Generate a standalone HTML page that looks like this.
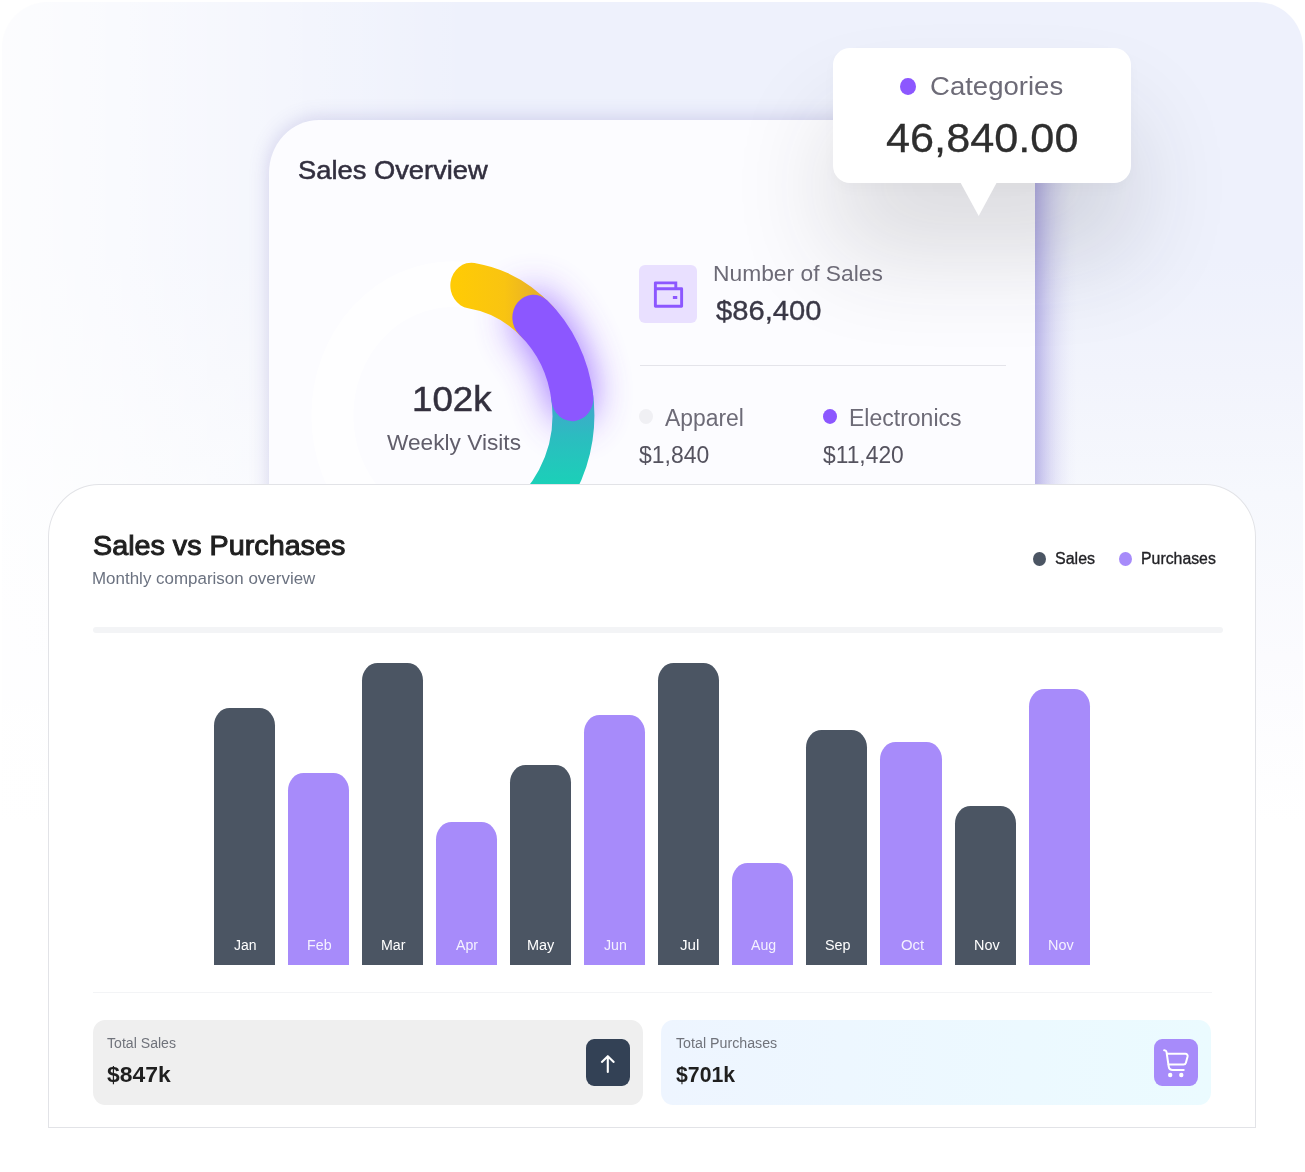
<!DOCTYPE html>
<html lang="en"><head><meta charset="utf-8"><title>Sales dashboard</title>
<style>
*{box-sizing:border-box;margin:0;padding:0}
html,body{width:1305px;height:1172px;background:#fff;overflow:hidden}
body{position:relative;font-family:"Liberation Sans",Arial,sans-serif}
.abs{position:absolute}
.panel{left:2px;top:2px;width:1301px;height:1170px;border-radius:46px 46px 0 0;
 background:linear-gradient(90deg,rgba(255,255,255,.82) 0%,rgba(255,255,255,.66) 9%,rgba(255,255,255,.4) 20%,rgba(255,255,255,0) 36%),linear-gradient(180deg,#eef1fc 0%,#eef1fc 22%,#f2f4fc 32%,#f6f8fd 42%,#fbfbfe 56%,#fff 70%)}
.card1{left:268.8px;top:120.3px;width:766.4px;height:420px;border-radius:50px 50px 0 0/53px 53px 0 0;background:#fcfcff;
 box-shadow:0 -1px 20px rgba(92,82,175,.24)}
.rsh{left:1035.2px;top:124px;width:42px;height:380px;background:linear-gradient(90deg,rgba(108,92,208,.34) 0,rgba(108,92,208,.25) 18%,rgba(108,92,208,.15) 40%,rgba(108,92,208,.07) 62%,rgba(108,92,208,.02) 82%,rgba(108,92,208,0) 100%)}
.tip{left:833px;top:47.7px;width:298px;height:135.5px;border-radius:17px;background:#fff;box-shadow:0 70px 100px rgba(45,45,52,.155),0 6px 14px rgba(45,45,52,.025)}
.card2{left:48.3px;top:484.1px;width:1207.3px;height:644.4px;border-radius:51px 51px 0 0/53px 53px 0 0;background:#fff;border:1px solid #e2e3e7}
.t{position:absolute;white-space:nowrap;line-height:1;transform-origin:0 0.8465em;display:block}
.bar{position:absolute;border-radius:15.5px 15.5px 0 0/17.5px 17.5px 0 0}
.bar.d{background:#4b5563}.bar.p{background:#a78bfa}
.dot{position:absolute;border-radius:50%}
</style></head><body>
<div class="abs panel"></div>
<div class="abs card1"></div>
<div class="abs rsh"></div>
<!-- tooltip shadow + body -->
<div class="abs tip"></div>
<svg class="abs" style="left:955px;top:180px" width="48" height="40" viewBox="0 0 48 40"><path d="M5.7 3 H41.5 L23.7 36 Z" fill="#fff"/></svg>
<div class="abs" style="left:950px;top:168px;width:58px;height:15.2px;background:#fff"></div>
<div class="dot" style="left:899.6px;top:77.6px;width:16.3px;height:17.6px;background:#8c57ff"></div>

<!-- donut -->
<svg class="abs" style="left:268px;top:200px" width="420" height="340" viewBox="268 200 420 340">
 <defs>
  <linearGradient id="gy" gradientUnits="userSpaceOnUse" x1="2" y1="0" x2="92" y2="0"><stop offset="0" stop-color="#ffcb05"/><stop offset=".55" stop-color="#f9c411"/><stop offset="1" stop-color="#e3ab2e"/></linearGradient>
  <linearGradient id="gt" gradientUnits="userSpaceOnUse" x1="0" y1="-18" x2="0" y2="63"><stop offset="0" stop-color="#46a2cf"/><stop offset=".45" stop-color="#2cbcc0"/><stop offset="1" stop-color="#1bd0b8"/></linearGradient>
  <filter id="glow" filterUnits="userSpaceOnUse" x="-60" y="-240" width="340" height="400"><feGaussianBlur stdDeviation="19"/></filter>
 </defs>
 <g transform="translate(452.9,415.4) scale(1,1.09)" fill="none" stroke-width="42">
  <circle r="120.5" stroke="#fff" stroke-opacity=".75"/>
  <path id="pp" d="M80.47 -89.69A120.5 120.5 0 0 1 119.47 -15.73" stroke="#8c57ff" stroke-linecap="round" filter="url(#glow)" opacity=".9"/>
 </g>
 <g transform="translate(452.9,415.4) scale(1,1.09)" fill="none" stroke-width="42">
  <path d="M118.67 -20.92A120.5 120.5 0 0 1 41.21 113.23" stroke="url(#gt)"/>
  <path d="M18.43 -119.08A120.5 120.5 0 0 1 85.21 -85.21" stroke="url(#gy)" stroke-linecap="round"/>
  <path d="M80.47 -89.69A120.5 120.5 0 0 1 119.47 -15.73" stroke="#8c57ff" stroke-linecap="round"/>
 </g>
</svg>

<!-- icon box -->
<div class="abs" style="left:639.3px;top:265.3px;width:58px;height:58px;border-radius:6px;background:#e9e0ff"></div>
<svg class="abs" style="left:651px;top:277px" width="35" height="35" viewBox="0 0 24 24"><path fill="#8c57ff" d="M18 7h3a1 1 0 0 1 1 1v12a1 1 0 0 1-1 1H3a1 1 0 0 1-1-1V4a1 1 0 0 1 1-1h15v4ZM4 9v10h16V9H4Zm0-4v2h12V5H4Zm11 8h3v2h-3v-2Z"/></svg>
<div class="abs" style="left:639.6px;top:364.6px;width:366.5px;height:1.3px;background:#e4e4ea"></div>
<div class="dot" style="left:639.3px;top:409.2px;width:14.2px;height:15.2px;background:#f0f0f4"></div>
<div class="dot" style="left:822.5px;top:409.2px;width:14.4px;height:15.2px;background:#8c57ff"></div>

<div class="abs card2"></div>
<div class="abs" style="left:93px;top:627px;width:1129.8px;height:5.6px;border-radius:3px;background:#f3f4f6"></div>
<div class="dot" style="left:1033.3px;top:552.2px;width:13.2px;height:14.3px;background:#4b5563"></div>
<div class="dot" style="left:1119.2px;top:552.2px;width:13.2px;height:14.3px;background:#a78bfa"></div>
<div class="bar d" style="left:214.1px;width:60.5px;top:708.2px;height:256.4px"></div><div class="bar p" style="left:288px;width:60.6px;top:773px;height:191.6px"></div><div class="bar d" style="left:362px;width:60.5px;top:663.4px;height:301.2px"></div><div class="bar p" style="left:436px;width:60.5px;top:822.4px;height:142.2px"></div><div class="bar d" style="left:510.3px;width:60.5px;top:764.5px;height:200.1px"></div><div class="bar p" style="left:584.2px;width:60.5px;top:715.1px;height:249.5px"></div><div class="bar d" style="left:658px;width:60.9px;top:663.4px;height:301.2px"></div><div class="bar p" style="left:732px;width:60.9px;top:863.4px;height:101.2px"></div><div class="bar d" style="left:805.9px;width:60.9px;top:730.4px;height:234.2px"></div><div class="bar p" style="left:879.8px;width:62.1px;top:742.3px;height:222.3px"></div><div class="bar d" style="left:955px;width:60.9px;top:805.9px;height:158.7px"></div><div class="bar p" style="left:1029.3px;width:60.5px;top:689.4px;height:275.2px"></div>
<div class="abs" style="left:93px;top:991.5px;width:1118.8px;height:1.2px;background:#f3f4f6"></div>
<div class="abs" style="left:92.8px;top:1019.8px;width:550px;height:85px;border-radius:12px/13px;background:#efefef"></div>
<div class="abs" style="left:661px;top:1019.8px;width:550px;height:85px;border-radius:12px/13px;background:linear-gradient(90deg,#eef5ff,#ebfbff)"></div>
<div class="abs" style="left:586px;top:1038.8px;width:43.5px;height:47.2px;border-radius:8px/9px;background:#334155"></div>
<svg class="abs" style="left:586px;top:1038.8px" width="43.5" height="47.2" viewBox="0 0 43.5 47.2"><path d="M21.8 32.9V17.4M15.9 22.9l5.9-5.7 5.9 5.7" fill="none" stroke="#fff" stroke-width="2.1" stroke-linecap="round" stroke-linejoin="round"/></svg>
<div class="abs" style="left:1154.4px;top:1038.8px;width:43.5px;height:47.2px;border-radius:8px/9px;background:#a78bfa"></div>
<svg class="abs" style="left:1154.4px;top:1038.8px" width="43.5" height="47.2" viewBox="0 0 43.5 47.2" fill="none" stroke="#fff" stroke-width="2" stroke-linecap="round" stroke-linejoin="round"><path d="M10.1 11.2h.4c1 0 1.8.7 2 1.7l2.2 14.6c.3 2 2 3.5 4 3.5h11"/><path d="M13.3 14.8h18.2c1.4 0 2.4 1.3 2.1 2.6l-1.7 6.4c-.3 1.1-1.2 1.8-2.3 1.8H14.6"/><circle cx="16.2" cy="36" r="1.2" fill="#fff"/><circle cx="27.3" cy="36" r="1.2" fill="#fff"/></svg>
<span class="t" style="left:298.10px;top:157.89px;font-size:25.0px;font-weight:400;color:#322f3f;-webkit-text-stroke:0.5px #322f3f;transform:scale(1.0928,1.0029)">Sales Overview</span>
<span class="t" style="left:412.24px;top:381.08px;font-size:36.0px;font-weight:400;color:#33303e;-webkit-text-stroke:0.5px #33303e;transform:scale(1.0184,0.9944)">102k</span>
<span class="t" style="left:387.00px;top:432.70px;font-size:21.5px;font-weight:400;color:#615e6b;transform:scale(1.0546,0.9976)">Weekly Visits</span>
<span class="t" style="left:713.38px;top:263.08px;font-size:22.0px;font-weight:400;color:#6d6b77;transform:scale(1.0370,1.0013)">Number of Sales</span>
<span class="t" style="left:715.91px;top:296.72px;font-size:27.5px;font-weight:400;color:#3a3846;-webkit-text-stroke:0.35px #3a3846;transform:scale(1.0618,0.9974)">$86,400</span>
<span class="t" style="left:665.00px;top:406.51px;font-size:23.5px;font-weight:400;color:#6d6b77;transform:scale(0.9744,0.9991)">Apparel</span>
<span class="t" style="left:848.76px;top:406.51px;font-size:23.5px;font-weight:400;color:#6d6b77;transform:scale(0.9791,0.9991)">Electronics</span>
<span class="t" style="left:639.17px;top:442.98px;font-size:24.0px;font-weight:400;color:#55535f;transform:scale(0.9558,1.0000)">$1,840</span>
<span class="t" style="left:822.97px;top:442.98px;font-size:24.0px;font-weight:400;color:#55535f;transform:scale(0.9503,1.0000)">$11,420</span>
<span class="t" style="left:930.02px;top:72.67px;font-size:26.5px;font-weight:400;color:#6d6b77;transform:scale(1.0394,0.9954)">Categories</span>
<span class="t" style="left:886.13px;top:118.11px;font-size:40.0px;font-weight:400;color:#2e2e2e;-webkit-text-stroke:0.3px #2e2e2e;transform:scale(1.0814,1.0000)">46,840.00</span>
<span class="t" style="left:92.65px;top:531.72px;font-size:27.5px;font-weight:400;color:#1f1f1f;-webkit-text-stroke:1.0px #1f1f1f;transform:scale(1.0448,1.0013)">Sales vs Purchases</span>
<span class="t" style="left:92.44px;top:569.96px;font-size:17.0px;font-weight:400;color:#6b7280;transform:scale(0.9973,1.0145)">Monthly comparison overview</span>
<span class="t" style="left:1054.57px;top:550.41px;font-size:17.0px;font-weight:400;color:#222226;-webkit-text-stroke:0.35px #222226;transform:scale(0.9413,0.9889)">Sales</span>
<span class="t" style="left:1140.72px;top:550.41px;font-size:17.0px;font-weight:400;color:#222226;-webkit-text-stroke:0.35px #222226;transform:scale(0.9319,0.9889)">Purchases</span>
<span class="t" style="left:106.72px;top:1035.68px;font-size:14.5px;font-weight:400;color:#70737b;transform:scale(0.9729,0.9895)">Total Sales</span>
<span class="t" style="left:106.77px;top:1064.04px;font-size:22.0px;font-weight:700;color:#1f1f1f;transform:scale(1.0419,1.0065)">$847k</span>
<span class="t" style="left:675.72px;top:1035.68px;font-size:14.5px;font-weight:400;color:#70737b;transform:scale(0.9811,0.9895)">Total Purchases</span>
<span class="t" style="left:675.59px;top:1064.03px;font-size:22.0px;font-weight:700;color:#1f1f1f;transform:scale(0.9666,1.0065)">$701k</span>
<span class="t" style="left:233.86px;top:938.08px;font-size:14.5px;font-weight:400;color:#fff;transform:scale(0.9645,0.9895)">Jan</span>
<span class="t" style="left:306.84px;top:938.08px;font-size:14.5px;font-weight:400;color:rgba(255,255,255,.88);transform:scale(0.9834,0.9895)">Feb</span>
<span class="t" style="left:380.85px;top:938.08px;font-size:14.5px;font-weight:400;color:#fff;transform:scale(0.9826,0.9895)">Mar</span>
<span class="t" style="left:456.40px;top:938.08px;font-size:14.5px;font-weight:400;color:rgba(255,255,255,.88);transform:scale(0.9795,0.9895)">Apr</span>
<span class="t" style="left:527.03px;top:938.08px;font-size:14.5px;font-weight:400;color:#fff;transform:scale(0.9991,0.9895)">May</span>
<span class="t" style="left:604.26px;top:938.08px;font-size:14.5px;font-weight:400;color:rgba(255,255,255,.88);transform:scale(0.9776,0.9895)">Jun</span>
<span class="t" style="left:680.05px;top:938.08px;font-size:14.5px;font-weight:400;color:#fff;transform:scale(1.0465,0.9895)">Jul</span>
<span class="t" style="left:751.00px;top:938.08px;font-size:14.5px;font-weight:400;color:rgba(255,255,255,.88);transform:scale(0.9726,0.9895)">Aug</span>
<span class="t" style="left:824.64px;top:938.08px;font-size:14.5px;font-weight:400;color:#fff;transform:scale(0.9889,0.9895)">Sep</span>
<span class="t" style="left:900.61px;top:938.08px;font-size:14.5px;font-weight:400;color:rgba(255,255,255,.88);transform:scale(1.0271,0.9895)">Oct</span>
<span class="t" style="left:973.85px;top:938.08px;font-size:14.5px;font-weight:400;color:#fff;transform:scale(0.9953,0.9895)">Nov</span>
<span class="t" style="left:1048.05px;top:938.08px;font-size:14.5px;font-weight:400;color:rgba(255,255,255,.88);transform:scale(0.9953,0.9895)">Nov</span>
</body></html>
